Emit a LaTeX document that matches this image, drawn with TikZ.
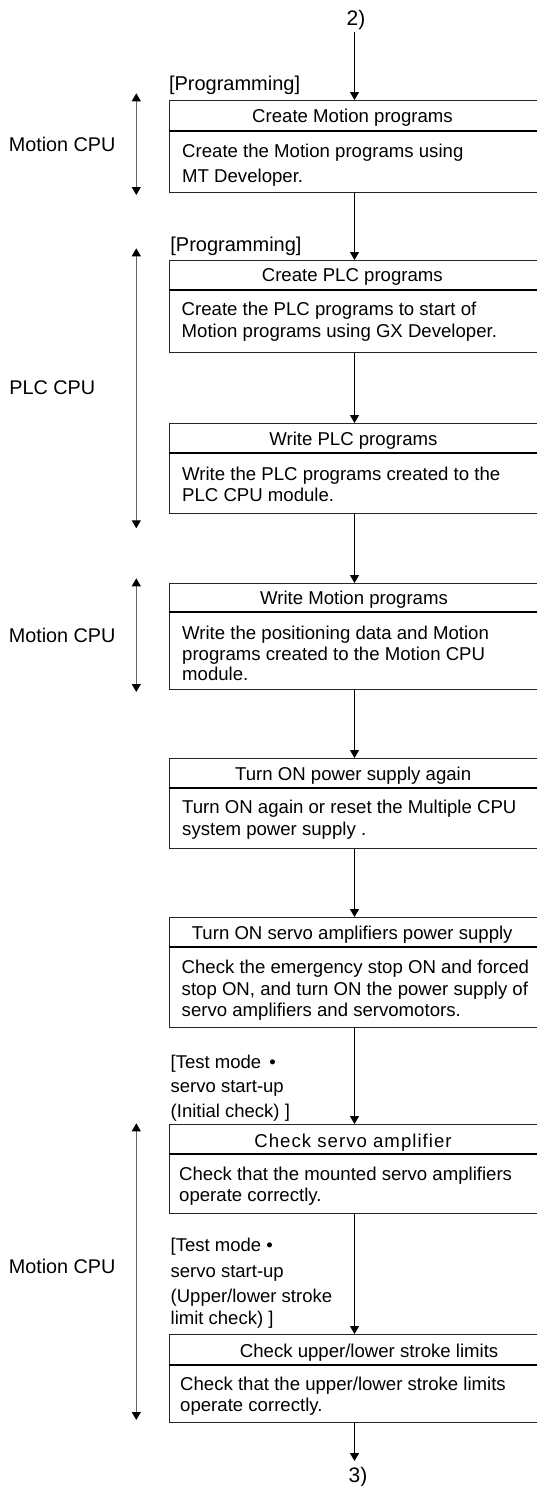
\documentclass[tikz,border=0pt]{standalone}
\usepackage{fontspec}
\setmainfont{Liberation Sans}
\usetikzlibrary{arrows.meta}
\begin{document}
\begin{tikzpicture}[x=1pt,y=-1pt,
  stepbox/.style={draw=black!85, line width=1pt, rectangle, anchor=north west,
    minimum width=420pt, inner sep=0pt},
  divider/.style={draw=black, line width=1.9pt},
  title/.style={anchor=base, inner sep=0pt, font=\fontsize{18.6}{21.5}\selectfont},
  body/.style={anchor=base west, inner sep=0pt, align=left, font=\fontsize{18.6}{21.5}\selectfont},
  side/.style={anchor=base west, inner sep=0pt, font=\fontsize{19.8}{24}\selectfont},
  note/.style={anchor=base west, inner sep=0pt, align=left, font=\fontsize{18.5}{24.5}\selectfont},
  prog/.style={anchor=base west, inner sep=0pt, font=\fontsize{20}{24}\selectfont},
  arr/.style={draw=black, line width=1.3pt, -{Triangle[length=8pt,width=9pt]}},
  span/.style={draw=black!60, line width=1pt,
    {Triangle[length=8pt,width=9pt,black]}-{Triangle[length=8pt,width=9pt,black]}}
]
\useasboundingbox (0,0) rectangle (537,1486);
\clip (0,0) rectangle (537,1486);

\coordinate (ax) at (354.5,0);

% ---- boxes ----
\node[stepbox, minimum height=91.7pt] (b1) at (168.5,100) {};
\node[stepbox, minimum height=92pt]   (b2) at (168.5,260) {};
\node[stepbox, minimum height=90pt]   (b3) at (168.5,423) {};
\node[stepbox, minimum height=106pt]  (b4) at (168.5,583) {};
\node[stepbox, minimum height=90pt]   (b5) at (168.5,758) {};
\node[stepbox, minimum height=110pt]  (b6) at (168.5,917) {};
\node[stepbox, minimum height=89pt]   (b7) at (168.5,1124) {};
\node[stepbox, minimum height=88pt]   (b8) at (168.5,1334) {};

\draw[divider] (168.5,130.7) -- (560,130.7);
\draw[divider] (168.5,290) -- (560,290);
\draw[divider] (168.5,453) -- (560,453);
\draw[divider] (168.5,612.3) -- (560,612.3);
\draw[divider] (168.5,788) -- (560,788);
\draw[divider] (168.5,947) -- (560,947);
\draw[divider] (168.5,1154) -- (560,1154);
\draw[divider] (168.5,1365) -- (560,1365);

% ---- titles ----
\node[title] (t1) at (352.5,122.7) {Create Motion programs};
\node[title] (t2) at (352.3,281.7) {Create PLC programs};
\node[title] (t3) at (353.4,445.7) {Write PLC programs};
\node[title] (t4) at (354,604.3) {Write Motion programs};
\node[title] (t5) at (353.2,780.7) {Turn ON power supply again};
\node[title] (t6) at (352.2,939.3) {Turn ON servo amplifiers power supply};
\node[title] (t7) at (353,1147.7) {\addfontfeature{LetterSpace=5.5}Check servo amplifier};
\node[title, anchor=base west] (t8) at (239.7,1357.3) {Check upper/lower stroke limits};

% ---- bodies (anchored at the baseline of the last line) ----
\node[body, font=\fontsize{18.6}{25.4}\selectfont] (d1) at (182,182.7) {Create the Motion programs using\\MT Developer.};
\node[body] (d2) at (181.5,337.3) {Create the PLC programs to start of\\Motion programs using GX Developer.};
\node[body] (d3) at (182,501.7) {Write the PLC programs created to the\\PLC CPU module.};
\node[body, font=\fontsize{18.6}{20.7}\selectfont] (d4) at (182,680.7) {Write the positioning data and Motion\\programs created to the Motion CPU\\module.};
\node[body] (d5) at (182,835) {Turn ON again or reset the Multiple CPU\\system power supply .};
\node[body] (d6) at (181.5,1016.7) {Check the emergency stop ON and forced\\stop ON, and turn ON the power supply of\\servo amplifiers and servomotors.};
\node[body] (d7) at (179,1201.7) {Check that the mounted servo amplifiers\\operate correctly.};
\node[body, font=\fontsize{18.6}{21}\selectfont] (d8) at (180,1411.7) {Check that the upper/lower stroke limits\\operate correctly.};

% ---- labels ----
\node[prog] (p1) at (168.8,90.7) {[Programming]};
\node[prog] (p2) at (170.2,251.7) {[Programming]};
\node[note] (n1) at (170.5,1117.3) {[Test mode\, •\\servo start-up\\(Initial check) ]};
\node[note, font=\fontsize{18.5}{25.3}\selectfont] (n2) at (170.5,1324) {[Test mode •\\servo start-up\\(Upper/lower stroke\\[-3.6pt]limit check) ]};

\node[side] (c1) at (8.6,151.7) {Motion CPU};
\node[side] (c2) at (9.2,394) {PLC CPU};
\node[side] (c3) at (8.6,642.7) {Motion CPU};
\node[side] (c4) at (8.6,1273.3) {Motion CPU};

% ---- side spans ----
\coordinate (s1a) at (136.3,93.3);   \coordinate (s1b) at (136.3,195);
\coordinate (s2a) at (136.3,248.3);  \coordinate (s2b) at (136.3,528.3);
\coordinate (s3a) at (136.3,578.3);  \coordinate (s3b) at (136.3,692);
\coordinate (s4a) at (136.3,1123.3); \coordinate (s4b) at (136.3,1420);
\draw[span] (s1a) -- (s1b);
\draw[span] (s2a) -- (s2b);
\draw[span] (s3a) -- (s3b);
\draw[span] (s4a) -- (s4b);

% ---- flow ----
\node[anchor=base, inner sep=0pt, font=\fontsize{21}{24}\selectfont] (in) at (356,25) {2)};
\node[anchor=base, inner sep=0pt, font=\fontsize{21}{24}\selectfont] (out) at (358,1482) {3)};
\coordinate (inend) at (354.5,32);
\coordinate (outend) at (354.5,1461);

\draw[arr] (inend) -- (b1.north -| ax);
\draw[arr] (b1.south -| ax) -- (b2.north -| ax);
\draw[arr] (b2.south -| ax) -- (b3.north -| ax);
\draw[arr] (b3.south -| ax) -- (b4.north -| ax);
\draw[arr] (b4.south -| ax) -- (b5.north -| ax);
\draw[arr] (b5.south -| ax) -- (b6.north -| ax);
\draw[arr] (b6.south -| ax) -- (b7.north -| ax);
\draw[arr] (b7.south -| ax) -- (b8.north -| ax);
\draw[arr] (b8.south -| ax) -- (outend);
\end{tikzpicture}
\end{document}
